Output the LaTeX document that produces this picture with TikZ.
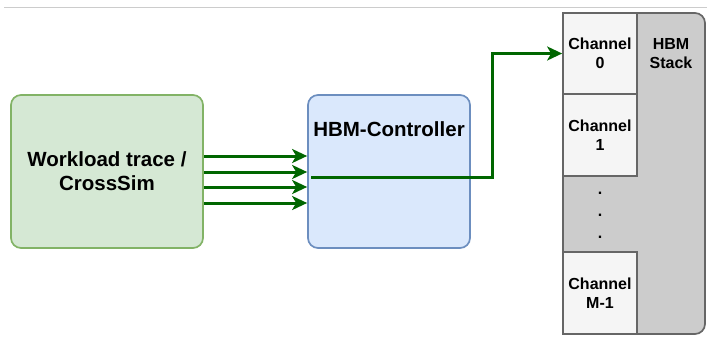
\documentclass[tikz,border=0pt]{standalone}
\usepackage{fontspec}
\setmainfont{Liberation Sans}
\usetikzlibrary{positioning,arrows.meta}

\definecolor{tracefill}{HTML}{D5E8D4}
\definecolor{traceline}{HTML}{82B366}
\definecolor{ctrlfill}{HTML}{DAE8FC}
\definecolor{ctrlline}{HTML}{6C8EBF}
\definecolor{stackfill}{HTML}{CCCCCC}
\definecolor{stackline}{HTML}{666666}
\definecolor{chanfill}{HTML}{F5F5F5}
\definecolor{flowgreen}{HTML}{006600}

\begin{document}
\begin{tikzpicture}[x=1pt,y=-1pt]
        \tikzstyle{block}=[draw,line width=1.7pt,rounded corners=10pt,inner sep=0pt,minimum height=153pt,font=\fontsize{20.5}{24}\selectfont\bfseries,align=center]
        \tikzstyle{channel}=[draw=stackline,fill=chanfill,line width=1.7pt,minimum width=74pt,inner sep=0pt,font=\fontsize{16}{19}\selectfont\bfseries,align=center]
        \tikzstyle{flow}=[draw=flowgreen,line width=3pt,-{Stealth[length=15pt,width=14pt,inset=4pt]}]

        \useasboundingbox (0,0) rectangle (707,338);
        \draw[gray!40,line width=1pt] (4,7) -- (707,7);

        \draw (107,171.5) node[block,fill=tracefill,draw=traceline,minimum width=192pt] (trace) {Workload trace /\\CrossSim};
        \draw (389,171.5) node[block,fill=ctrlfill,draw=ctrlline,minimum width=162pt,
            label={[anchor=north,yshift=-24pt,font=\fontsize{20.5}{24}\selectfont\bfseries]north:HBM-Controller}] (ctrl) {};

        \draw (634,173.5) node[draw=stackline,fill=stackfill,line width=1.7pt,rounded corners=10pt,minimum width=142pt,minimum height=321pt,inner sep=0pt] (stack) {};
        \draw (671,54) node[font=\fontsize{16}{19}\selectfont\bfseries,align=center] (stacklbl) {HBM\\Stack};

        \draw (600,53.5) node[channel,minimum height=81pt] (ch0) {Channel\\0};
        \draw (600,135) node[channel,minimum height=82pt] (ch1) {Channel\\1};
        \draw (600,215.5) node[font=\fontsize{16}{22}\selectfont\bfseries,align=center] (dots) {.\\.\\.};
        \draw (600,293) node[channel,minimum height=82pt] (chm) {Channel\\M-1};

        \draw[flow] (trace.east |- 0,156) -- (ctrl.west |- 0,156);
        \draw[flow] (trace.east |- 0,172) -- (ctrl.west |- 0,172);
        \draw[flow] (trace.east |- 0,187) -- (ctrl.west |- 0,187);
        \draw[flow] (trace.east |- 0,203) -- (ctrl.west |- 0,203);

        \coordinate (turn) at (492,53.5);
        \draw[flow] ([shift={(4,5.5)}]ctrl.west) -| (turn) -- (ch0.west);
\end{tikzpicture}
\end{document}
